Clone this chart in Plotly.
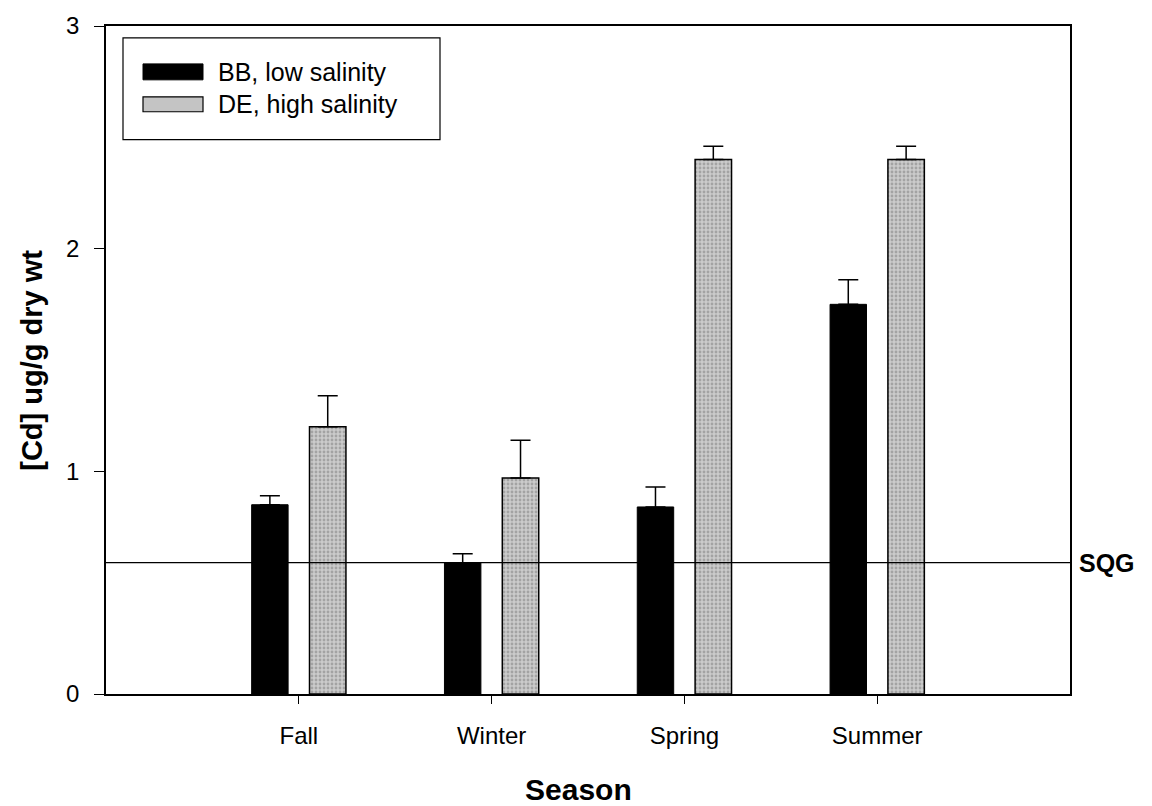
import plotly.graph_objects as go

# Seasonal cadmium concentrations in sediment, two sites
seasons = ["Fall", "Winter", "Spring", "Summer"]
bb_mean = [0.85, 0.59, 0.84, 1.75]
bb_err = [0.04, 0.04, 0.09, 0.11]
de_mean = [1.20, 0.97, 2.40, 2.40]
de_err = [0.14, 0.17, 0.06, 0.06]
sqg_value = 0.59

bb_name = "BB, low salinity"
de_name = "DE, high salinity"

FONT = "Liberation Sans, Arial, sans-serif"

fig = go.Figure()

fig.add_trace(go.Bar(
    x=seasons, y=bb_mean, name=bb_name,
    marker=dict(color="black", line=dict(color="black", width=1)),
    error_y=dict(type="data", array=bb_err, arrayminus=[0] * len(bb_err),
                 symmetric=False, color="black", thickness=1.5, width=10),
    showlegend=False,
))

fig.add_trace(go.Bar(
    x=seasons, y=de_mean, name=de_name,
    marker=dict(
        color="#c8c8c8",
        line=dict(color="black", width=1.5),
        pattern=dict(shape=".", fgcolor="#7c7c7c", bgcolor="#cbcbcb",
                     size=4, solidity=0.4),
    ),
    error_y=dict(type="data", array=de_err, arrayminus=[0] * len(de_err),
                 symmetric=False, color="black", thickness=1.5, width=10),
    showlegend=False,
))

# Sediment quality guideline reference line
fig.add_shape(type="line", xref="paper", yref="y", x0=0, x1=1,
              y0=sqg_value, y1=sqg_value, line=dict(color="black", width=1.2))
fig.add_annotation(xref="paper", yref="y", x=1.007, y=sqg_value, text="<b>SQG</b>",
                   showarrow=False, xanchor="left", yanchor="middle",
                   font=dict(family=FONT, size=25, color="black"))

# Axis titles
fig.add_annotation(xref="paper", yref="paper", x=-0.077, y=0.5,
                   text="<b>[Cd] ug/g dry wt</b>", textangle=-90, showarrow=False,
                   xanchor="center", yanchor="middle",
                   font=dict(family=FONT, size=29, color="black"))
fig.add_annotation(xref="paper", yref="paper", x=0.49, y=-0.143,
                   text="<b>Season</b>", showarrow=False,
                   xanchor="center", yanchor="middle",
                   font=dict(family=FONT, size=30, color="black"))

# Legend box with wide swatches
def px_x(px):
    return (px - 106) / 964.0

def px_y(py):
    return (694 - py) / 670.0

fig.add_shape(type="rect", xref="paper", yref="paper",
              x0=px_x(123), x1=px_x(440), y0=px_y(138), y1=px_y(36),
              line=dict(color="black", width=1.2), fillcolor="white")
fig.add_shape(type="rect", xref="paper", yref="paper",
              x0=px_x(143), x1=px_x(203), y0=px_y(78), y1=px_y(62),
              line=dict(color="black", width=1), fillcolor="black")
fig.add_shape(type="rect", xref="paper", yref="paper",
              x0=px_x(143), x1=px_x(203), y0=px_y(110), y1=px_y(95),
              line=dict(color="black", width=1.2), fillcolor="#c4c4c4")
for label, py in [(bb_name, 70), (de_name, 102.5)]:
    fig.add_annotation(xref="paper", yref="paper", x=px_x(216), y=px_y(py),
                       text=label, showarrow=False, xanchor="left", yanchor="middle",
                       font=dict(family=FONT, size=25, color="black"))

fig.update_layout(
    width=1152, height=806,
    margin=dict(l=106, r=82, t=24, b=112),
    paper_bgcolor="white", plot_bgcolor="white",
    barmode="group", bargap=0.40, bargroupgap=0.37,
    font=dict(family=FONT, size=24, color="black"),
    showlegend=False,
)

fig.update_xaxes(
    type="category", range=[-1, 4],
    showline=True, linecolor="black", linewidth=1.5, mirror=True,
    ticks="outside", ticklen=8, tickwidth=1, tickcolor="black",
    tickfont=dict(family=FONT, size=24, color="black"),
    ticklabelstandoff=11,
    showgrid=False, zeroline=False,
)
fig.update_yaxes(
    range=[0, 3], dtick=1, tick0=0,
    showline=True, linecolor="black", linewidth=1.5, mirror=True,
    ticks="outside", ticklen=10, tickwidth=1, tickcolor="black",
    tickfont=dict(family=FONT, size=24, color="black"),
    ticklabelstandoff=10,
    showgrid=False, zeroline=False,
)

fig.write_html("out.html")
